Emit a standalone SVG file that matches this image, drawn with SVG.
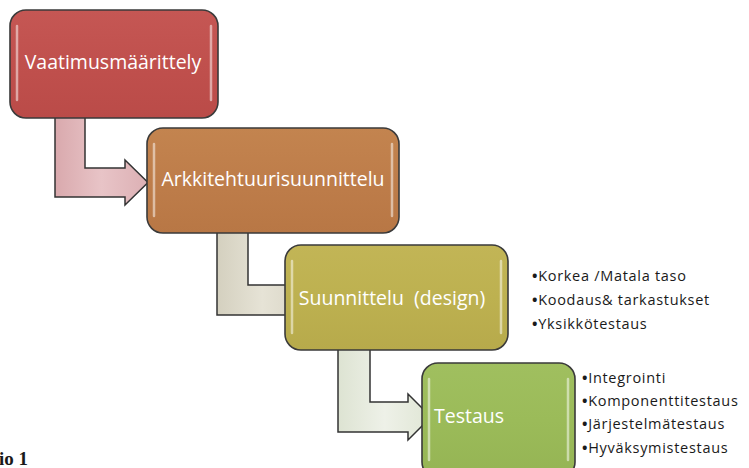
<svg xmlns="http://www.w3.org/2000/svg" width="749" height="468" viewBox="0 0 749 468">
<defs>
<linearGradient id="gRed" x1="0" y1="0" x2="0" y2="1"><stop offset="0" stop-color="#c55754"/><stop offset="0.5" stop-color="#c0504d"/><stop offset="1" stop-color="#ba4b48"/></linearGradient>
<linearGradient id="gOrange" x1="0" y1="0" x2="0" y2="1"><stop offset="0" stop-color="#c3844f"/><stop offset="0.5" stop-color="#be7d4a"/><stop offset="1" stop-color="#b87745"/></linearGradient>
<linearGradient id="gOlive" x1="0" y1="0" x2="0" y2="1"><stop offset="0" stop-color="#c2b556"/><stop offset="0.5" stop-color="#bdb150"/><stop offset="1" stop-color="#b7aa4b"/></linearGradient>
<linearGradient id="gGreen" x1="0" y1="0" x2="0" y2="1"><stop offset="0" stop-color="#a0bf5f"/><stop offset="0.5" stop-color="#9bbb59"/><stop offset="1" stop-color="#95b454"/></linearGradient>
<linearGradient id="c1" x1="0" y1="0" x2="1" y2="0"><stop offset="0" stop-color="#d9a9ad"/><stop offset="0.5" stop-color="#e8c4c7"/><stop offset="1" stop-color="#dcb0b4"/></linearGradient>
<linearGradient id="c2" x1="0" y1="0" x2="1" y2="0"><stop offset="0" stop-color="#d4d0bf"/><stop offset="0.5" stop-color="#e6e3d6"/><stop offset="1" stop-color="#d8d4c4"/></linearGradient>
<linearGradient id="c3" x1="0" y1="0" x2="1" y2="0"><stop offset="0" stop-color="#dde3d2"/><stop offset="0.5" stop-color="#eef1e8"/><stop offset="1" stop-color="#e0e6d5"/></linearGradient>
</defs>
<style>
.box{stroke:#3a3a3a;stroke-width:1.6}
.hl{stroke:#ffffff;stroke-width:2.5;stroke-linecap:round;opacity:0.5;fill:none}
.conn{stroke:#333333;stroke-width:1.5;stroke-linejoin:miter}
.lbl{font-family:"Open Sans","Liberation Sans",sans-serif;fill:#ffffff;font-size:19.5px}
.bul{font-family:"Open Sans","Liberation Sans",sans-serif;fill:#1a1a1a;font-size:14.5px;letter-spacing:0.7px}
.dot{font-weight:bold}
</style>
<rect width="749" height="468" fill="#ffffff"/>
<g id="connectors">
<path class="conn" fill="url(#c1)" d="M55,112 L55,197 L125,197 L125,205 L148,182.5 L125,160 L125,168 L85,168 L85,112 Z"/>
<path class="conn" fill="url(#c2)" d="M217,228 L217,315 L290,315 L290,322 L308,300 L290,278 L290,285 L248,285 L248,228 Z"/>
<path class="conn" fill="url(#c3)" d="M338,345 L338,432 L408,432 L408,440 L431,417 L408,394 L408,402 L370,402 L370,345 Z"/>
</g>
<g id="node1">
<rect class="box" x="10" y="10" width="208" height="108" rx="16" fill="url(#gRed)"/>
<line class="hl" x1="17" y1="26" x2="17" y2="100"/>
<line class="hl" x1="211" y1="26" x2="211" y2="100"/>
<text class="lbl" x="113" y="69" text-anchor="middle">Vaatimusmäärittely</text>
</g>
<g id="node2">
<rect class="box" x="147" y="128" width="252" height="105" rx="16" fill="url(#gOrange)"/>
<line class="hl" x1="154" y1="144" x2="154" y2="216"/>
<line class="hl" x1="392" y1="144" x2="392" y2="216"/>
<text class="lbl" x="273" y="186" text-anchor="middle">Arkkitehtuurisuunnittelu</text>
</g>
<g id="node3">
<rect class="box" x="285" y="245" width="223" height="105" rx="16" fill="url(#gOlive)"/>
<line class="hl" x1="292" y1="261" x2="292" y2="333"/>
<line class="hl" x1="501" y1="261" x2="501" y2="333"/>
<text class="lbl" x="392" y="305" text-anchor="middle" xml:space="preserve">Suunnittelu  (design)</text>
</g>
<g id="node4">
<rect class="box" x="422" y="363" width="153" height="115" rx="16" fill="url(#gGreen)"/>
<line class="hl" x1="429" y1="379" x2="429" y2="460"/>
<line class="hl" x1="568" y1="379" x2="568" y2="460"/>
<text class="lbl" x="434" y="423">Testaus</text>
</g>
<g id="notes1">
<text class="bul" x="532" y="281"><tspan class="dot">•</tspan>Korkea /Matala taso</text>
<text class="bul" x="532" y="305"><tspan class="dot">•</tspan>Koodaus&amp; tarkastukset</text>
<text class="bul" x="532" y="329"><tspan class="dot">•</tspan>Yksikkötestaus</text>
</g>
<g id="notes2">
<text class="bul" x="582" y="383"><tspan class="dot">•</tspan>Integrointi</text>
<text class="bul" x="582" y="406"><tspan class="dot">•</tspan>Komponenttitestaus</text>
<text class="bul" x="582" y="429"><tspan class="dot">•</tspan>Järjestelmätestaus</text>
<text class="bul" x="582" y="453"><tspan class="dot">•</tspan>Hyväksymistestaus</text>
</g>
<text x="-1" y="465" font-family="Liberation Serif, serif" font-weight="bold" font-size="19" fill="#1a1a1a">io 1</text>
</svg>
